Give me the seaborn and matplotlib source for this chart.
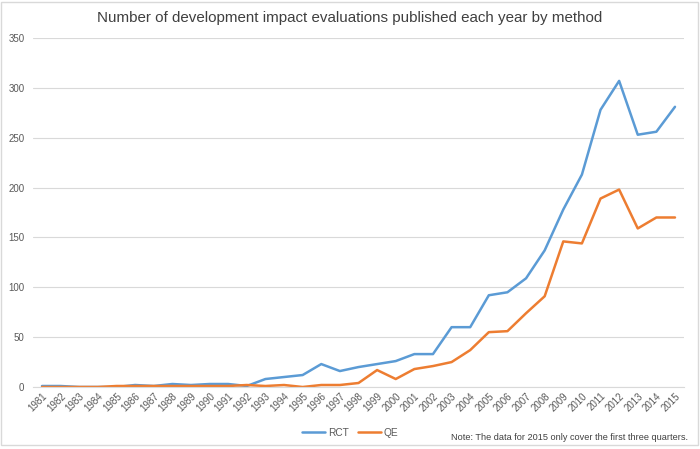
import numpy as np
import pandas as pd
import seaborn as sns
import matplotlib.pyplot as plt
from matplotlib.patches import Rectangle

years = list(range(1981, 2016))
rct = [1, 1, 0, 0, 0, 2, 1, 3, 2, 3, 3, 1, 8, 10, 12, 23, 16, 20, 23, 26,
       33, 33, 60, 60, 92, 95, 109, 137, 178, 213, 278, 307, 253, 256, 281]
qe = [0, 0, 0, 0, 1, 1, 1, 1, 1, 1, 1, 2, 1, 2, 0, 2, 2, 4, 17, 8,
      18, 21, 25, 37, 55, 56, 74, 91, 146, 144, 189, 198, 159, 170, 170]
methods = ["RCT", "QE"]
colors = ["#5B9BD5", "#ED7D31"]

df = pd.DataFrame({
    "year": years * 2,
    "count": rct + qe,
    "method": ["RCT"] * len(years) + ["QE"] * len(years),
})

sns.set_style("white")
plt.rcParams["font.family"] = ["Liberation Sans", "DejaVu Sans"]

fig = plt.figure(figsize=(7, 4.49), dpi=100)
ax = fig.add_axes([32.7 / 700, 1 - 387 / 449, (684.3 - 32.7) / 700, 349 / 449])

sns.lineplot(data=df, x="year", y="count", hue="method", hue_order=methods,
             palette=colors, linewidth=1.8, ax=ax, legend=False)

ax.set_xlim(1980.5, 2015.5)
ax.set_ylim(0, 350)
ax.set_yticks(range(0, 351, 50))
ax.set_xticks(years)
ax.set_xticklabels([str(y) for y in years], rotation=45, ha="right",
                   rotation_mode="anchor", fontsize=7, color="#595959")
ax.tick_params(axis="y", labelsize=7, labelcolor="#595959", length=0, pad=6)
ax.tick_params(axis="x", length=0, pad=3)
ax.grid(axis="y", color="#D9D9D9", linewidth=0.8)
ax.set_axisbelow(True)
for s in ["top", "right", "left"]:
    ax.spines[s].set_visible(False)
ax.spines["bottom"].set_color("#D9D9D9")
ax.set_xlabel("")
ax.set_ylabel("")

fig.text(0.5, 1 - 18 / 449, "Number of development impact evaluations published each year by method",
         ha="center", va="center", fontsize=10.9, color="#404040")

handles = [plt.Line2D([], [], color=c, linewidth=1.8) for c in colors]
fig.legend(handles, methods, loc="center", bbox_to_anchor=(350 / 700, 1 - 433 / 449),
           ncol=2, frameon=False, fontsize=7.3, handlelength=2.3, handletextpad=0.25,
           columnspacing=0.9, labelcolor="#595959")

fig.text(688 / 700, 1 - 438 / 449, "Note: The data for 2015 only cover the first three quarters.",
         ha="right", va="center", fontsize=6.6, color="#404040")

fig.patches.append(Rectangle((1 / 700, 4 / 449), 697 / 700, 443 / 449, transform=fig.transFigure,
                             fill=False, edgecolor="#D9D9D9", linewidth=1))

fig.savefig("out.png", dpi=100)
